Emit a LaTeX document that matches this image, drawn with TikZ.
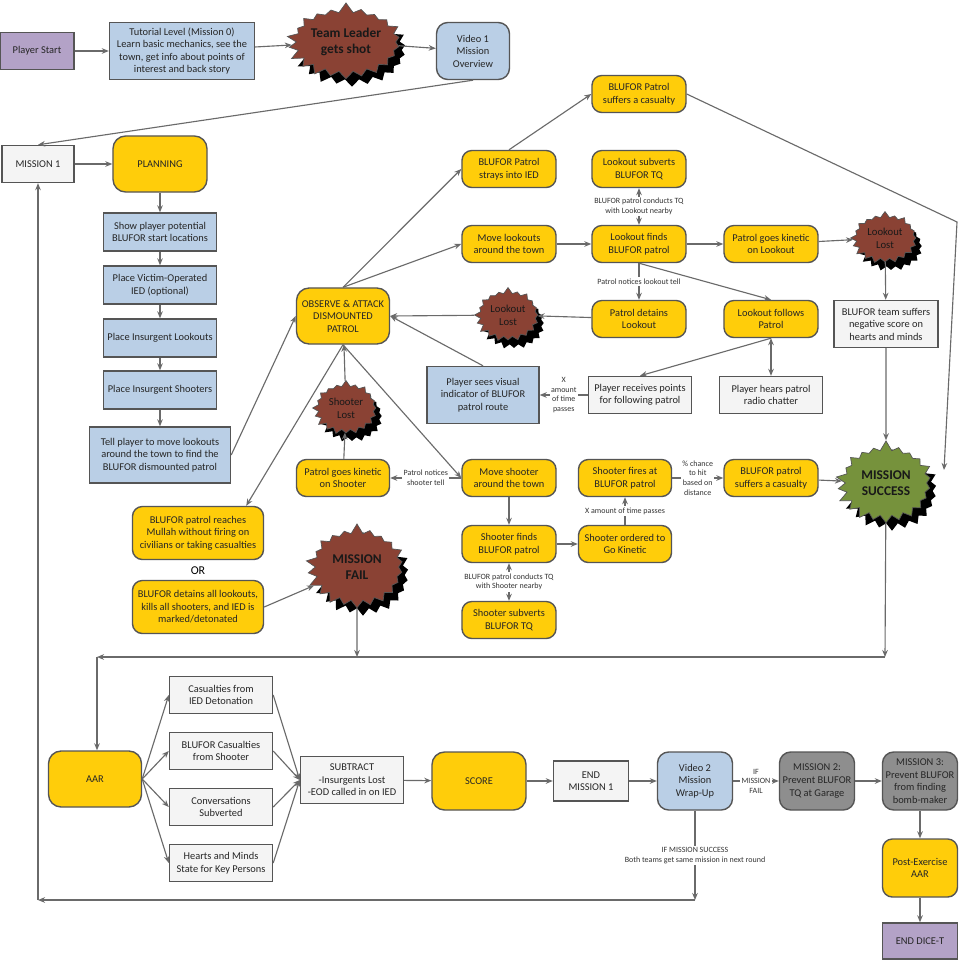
\documentclass[tikz,border=0pt]{standalone}
\usepackage{fontspec}
\setmainfont{Carlito}
\usetikzlibrary{positioning,arrows.meta,shapes.symbols,shadows}
\definecolor{dcYellow}{HTML}{FFCD0A}
\definecolor{dcBlue}{HTML}{BACFE6}
\definecolor{dcPurple}{HTML}{B3A2C7}
\definecolor{dcGrey}{HTML}{8E8E8E}
\definecolor{dcBrown}{HTML}{8A4234}
\definecolor{dcGreen}{HTML}{76923C}
\definecolor{dcLine}{HTML}{6A6A6A}
\definecolor{dcEdge}{HTML}{555555}
\definecolor{dcWhite}{HTML}{F4F4F4}

\begin{document}
\begin{tikzpicture}[
  x=0.025cm, y=-0.025cm,
  font=\fontsize{7.4}{8.9}\selectfont,
  >={Stealth[length=5pt,width=4pt]},
  flow/.style={->, draw=dcLine, line width=0.8pt},
  both/.style={<->, draw=dcLine, line width=0.8pt},
  base/.style={draw=dcEdge, line width=1pt, align=center, inner sep=1pt, text=black!85},
  actbox/.style={base, rounded corners=7pt, fill=dcYellow,
    minimum width=2.35cm, minimum height=0.925cm},
  bigact/.style={actbox, minimum height=1.4cm, rounded corners=9pt},
  infobox/.style={base, fill=dcBlue, minimum width=2.825cm, minimum height=0.95cm},
  notebox/.style={base, fill=dcWhite, minimum width=2.575cm, minimum height=0.925cm},
  greybox/.style={base, rounded corners=8pt, fill=dcGrey,
    minimum width=1.875cm, minimum height=1.45cm},
  burst/.style={starburst, starburst points=20, starburst point height=0.16cm,
    random starburst=7, fill=dcBrown, draw=dcEdge, line width=0.5pt,
    align=center, inner sep=0pt, text=black!90,
    font=\fontsize{7.6}{9}\selectfont,
    drop shadow={shadow xshift=0.15cm, shadow yshift=-0.2cm, fill=black, opacity=1}},
  bigburst/.style={burst, starburst points=22, starburst point height=0.26cm,
    font=\bfseries\fontsize{9.5}{11}\selectfont},
  tag/.style={font=\fontsize{5.7}{6.8}\selectfont, fill=white, inner sep=1pt,
    align=center, text=black!80}
]
  \fill[white] (0,0) rectangle (960,960);
  \useasboundingbox (0,0) rectangle (960,960);

  % opening sequence
  \node[base, fill=dcPurple, minimum width=1.85cm, minimum height=0.925cm] (pstart) at (37,51) {Player Start};
  \node[infobox, minimum width=3.625cm, minimum height=1.425cm] (tutorial) at (182,51) {Tutorial Level (Mission 0)\\Learn basic mechanics, see the\\town, get info about points of\\interest and back story};
  \node[bigburst, minimum width=2.45cm, minimum height=2cm] (tlshot) at (346,42) {Team Leader\\gets shot};
  \node[base, fill=dcBlue, rounded corners=8pt, minimum width=1.825cm, minimum height=1.425cm] (video1) at (473,51) {Video 1\\Mission\\Overview};

  % planning column
  \node[notebox, minimum width=1.8cm] (mission1) at (38,164) {MISSION 1};
  \node[bigact] (planning) at (160,164) {PLANNING};
  \node[infobox] (showloc) at (160,232) {Show player potential\\BLUFOR start locations};
  \node[infobox] (placeied) at (160,285) {Place Victim-Operated\\IED (optional)};
  \node[infobox] (placelook) at (160,338) {Place Insurgent Lookouts};
  \node[infobox] (placeshoot) at (160,390) {Place Insurgent Shooters};
  \node[infobox, minimum width=3.525cm, minimum height=1.4cm] (tellplayer) at (160,455) {Tell player to move lookouts\\around the town to find the\\BLUFOR dismounted patrol};

  % observe & attack
  \node[bigact, minimum width=2.325cm] (observe) at (343,316) {OBSERVE \& ATTACK\\DISMOUNTED\\PATROL};
  \node[actbox] (strays) at (509,169) {BLUFOR Patrol\\strays into IED};
  \node[actbox] (casualtytop) at (639,94) {BLUFOR Patrol\\suffers a casualty};
  \node[actbox] (subvertlook) at (639,169) {Lookout subverts\\BLUFOR TQ};
  \node[actbox] (movelook) at (509,244) {Move lookouts\\around the town};
  \node[actbox] (findlook) at (639,244) {Lookout finds\\BLUFOR patrol};
  \node[actbox] (kineticlook) at (771,244) {Patrol goes kinetic\\on Lookout};
  \node[burst, minimum width=1.75cm, minimum height=1.35cm] (lostlooktop) at (885,238) {Lookout\\Lost};
  \node[actbox] (detainlook) at (639,319) {Patrol detains\\Lookout};
  \node[actbox] (followlook) at (771,319) {Lookout follows\\Patrol};
  \node[notebox, minimum width=2.6cm, minimum height=1.175cm] (negscore) at (886,324) {BLUFOR team suffers\\negative score on\\hearts and minds};
  \node[burst, minimum width=1.7cm, minimum height=1.4cm] (lostlook) at (508,315) {Lookout\\Lost};
  \node[infobox, minimum width=2.8cm, minimum height=1.425cm] (seesvisual) at (483,395) {Player sees visual\\indicator of BLUFOR\\patrol route};
  \node[notebox] (receivepts) at (640,395) {Player receives points\\for following patrol};
  \node[notebox] (hearsradio) at (771,395) {Player hears patrol\\radio chatter};

  % shooter branch
  \node[burst, minimum width=1.7cm, minimum height=1.4cm] (lostshoot) at (346,408) {Shooter\\Lost};
  \node[actbox, minimum width=2.325cm] (kineticshoot) at (343,478) {Patrol goes kinetic\\on Shooter};
  \node[actbox] (moveshoot) at (509,478) {Move shooter\\around the town};
  \node[actbox] (findshoot) at (509,544) {Shooter finds\\BLUFOR patrol};
  \node[actbox] (subvertshoot) at (509,620) {Shooter subverts\\BLUFOR TQ};
  \node[actbox, minimum width=2.325cm] (ordershoot) at (625,544) {Shooter ordered to\\Go Kinetic};
  \node[actbox, minimum width=2.325cm] (firesshoot) at (625,478) {Shooter fires at\\BLUFOR patrol};
  \node[actbox] (casualtylow) at (771,478) {BLUFOR patrol\\suffers a casualty};
  \node[bigburst, fill=dcGreen, minimum width=2.55cm, minimum height=2.15cm] (success) at (886,483) {MISSION\\SUCCESS};

  % end conditions
  \node[actbox, minimum width=3.275cm, minimum height=1.325cm] (reachmullah) at (198,533) {BLUFOR patrol reaches\\Mullah without firing on\\civilians or taking casualties};
  \node[font=\fontsize{8.5}{10}\selectfont] (orlabel) at (198,571) {OR};
  \node[actbox, minimum width=3.275cm, minimum height=1.325cm] (detainsall) at (198,607) {BLUFOR detains all lookouts,\\kills all shooters, and IED is\\marked/detonated};
  \node[bigburst, minimum width=2.6cm, minimum height=2.2cm] (fail) at (357,567) {MISSION\\FAIL};

  % after action review
  \node[bigact, minimum width=2.325cm] (aar) at (95,779) {AAR};
  \node[notebox] (casied) at (221,695) {Casualties from\\IED Detonation};
  \node[notebox] (casshoot) at (221,751) {BLUFOR Casualties\\from Shooter};
  \node[notebox] (convsub) at (221,807) {Conversations\\Subverted};
  \node[notebox] (hearts) at (221,863) {Hearts and Minds\\State for Key Persons};
  \node[notebox, minimum height=1.175cm] (subtract) at (352,780) {SUBTRACT\\-Insurgents Lost\\-EOD called in on IED};
  \node[bigact, minimum height=1.45cm] (score) at (479,781) {SCORE};
  \node[notebox, minimum width=1.875cm, minimum height=1cm] (endm1) at (591,781) {END\\MISSION 1};
  \node[base, fill=dcBlue, rounded corners=8pt, minimum width=1.875cm, minimum height=1.45cm] (video2) at (695,781) {Video 2\\Mission\\Wrap-Up};
  \node[greybox] (mission2) at (817,781) {MISSION 2:\\Prevent BLUFOR\\TQ at Garage};
  \node[greybox] (mission3) at (920,781) {MISSION 3:\\Prevent BLUFOR\\from finding\\bomb-maker};
  \node[actbox, minimum width=1.875cm, minimum height=1.45cm] (postaar) at (920,868) {Post-Exercise\\AAR};
  \node[base, fill=dcPurple, minimum width=1.875cm, minimum height=0.9cm] (enddice) at (920,941) {END DICE-T};

  % junctions
  \coordinate (cbend) at (957,222);
  \coordinate (sucin) at (944,470);
  \coordinate (failj) at (357,657);
  \coordinate (succj) at (885,657);
  \coordinate (aarj) at (97,657);
  \coordinate (v2j) at (695,900);
  \coordinate (m1j) at (38,900);

  % Connections
  \draw[flow] (pstart) -- (tutorial);
  \draw[flow] (tutorial) -- (tlshot);
  \draw[flow] (tlshot) -- (video1);
  \draw[flow] (video1.south) -- (mission1.north);
  \draw[flow] (mission1) -- (planning);
  \draw[flow] (planning) -- (showloc);
  \draw[flow] (showloc) -- (placeied);
  \draw[flow] (placeied) -- (placelook);
  \draw[flow] (placelook) -- (placeshoot);
  \draw[flow] (placeshoot) -- (tellplayer);
  \draw[flow] (tellplayer.east) -- (observe.west);

  \draw[flow] (observe.north) -- (strays.west);
  \draw[flow] (observe.north) -- (movelook.west);
  \draw[flow] (strays.north) -- (casualtytop.west);
  \draw[flow] (casualtytop.east) -- (cbend) -- (sucin);
  \draw[flow] (movelook) -- (findlook);
  \draw[both] (findlook) -- node[tag] {BLUFOR patrol conducts TQ\\with Lookout nearby} (subvertlook);
  \draw[flow] (findlook) -- (kineticlook);
  \draw[flow] (kineticlook) -- (lostlooktop);
  \draw[flow] (findlook) -- node[tag] {Patrol notices lookout tell} (detainlook);
  \draw[flow] (findlook.south) -- (followlook.north);
  \draw[flow] (lostlooktop) -- (negscore);
  \draw[flow] (negscore) -- (success);
  \draw[flow] (detainlook) -- (lostlook);
  \draw[flow] (lostlook) -- (observe.east);
  \draw[both] (followlook) -- (hearsradio);
  \draw[flow] (followlook.south) -- (receivepts.north);
  \draw[flow] (receivepts) -- node[tag] {X\\amount\\of time\\passes} (seesvisual);
  \draw[flow] (seesvisual.north) -- (observe.east);

  \draw[flow] (kineticshoot) -- (lostshoot);
  \draw[flow] (lostshoot) -- (observe);
  \draw[flow] (observe.south) -- (moveshoot.west);
  \draw[flow] (observe.south) -- ([xshift=-0.45cm]reachmullah.north east);
  \draw[flow] (moveshoot) -- node[tag] {Patrol notices\\shooter tell} (kineticshoot);
  \draw[flow] (moveshoot) -- (findshoot);
  \draw[both] (findshoot) -- node[tag] {BLUFOR patrol conducts TQ\\with Shooter nearby} (subvertshoot);
  \draw[flow] (findshoot) -- (ordershoot);
  \draw[flow] (ordershoot) -- node[tag] {X amount of time passes} (firesshoot);
  \draw[flow] (firesshoot) -- node[tag] {\% chance\\to hit\\based on\\distance} (casualtylow);
  \draw[flow] (casualtylow) -- (success);
  \draw[flow] (detainsall.east) -- (fail);

  \draw[flow] (fail) -- (failj);
  \draw[flow] (success) -- (succj);
  \draw[flow] (succj) -- (aarj);
  \draw[flow] (aarj) -- (aarj |- aar.north);

  \draw[flow] (aar.east) -- (casied.west);
  \draw[flow] (aar.east) -- (casshoot.west);
  \draw[flow] (aar.east) -- (convsub.west);
  \draw[flow] (aar.east) -- (hearts.west);
  \draw[flow] (casied.east) -- (subtract.west);
  \draw[flow] (casshoot.east) -- (subtract.west);
  \draw[flow] (convsub.east) -- (subtract.west);
  \draw[flow] (hearts.east) -- (subtract.west);
  \draw[flow] (subtract) -- (score);
  \draw[flow] (score) -- (endm1);
  \draw[flow] (endm1) -- (video2);
  \draw[flow] (video2) -- node[tag] {IF\\MISSION\\FAIL} (mission2);
  \draw[flow] (mission2) -- (mission3);
  \draw[flow] (mission3) -- (postaar);
  \draw[flow] (postaar) -- (enddice);
  \draw[flow] (video2) -- node[tag] {IF MISSION SUCCESS\\Both teams get same mission in next round} (v2j);
  \draw[flow] (v2j) -- (m1j);
  \draw[flow] (m1j) -- (mission1);

\end{tikzpicture}
\end{document}
